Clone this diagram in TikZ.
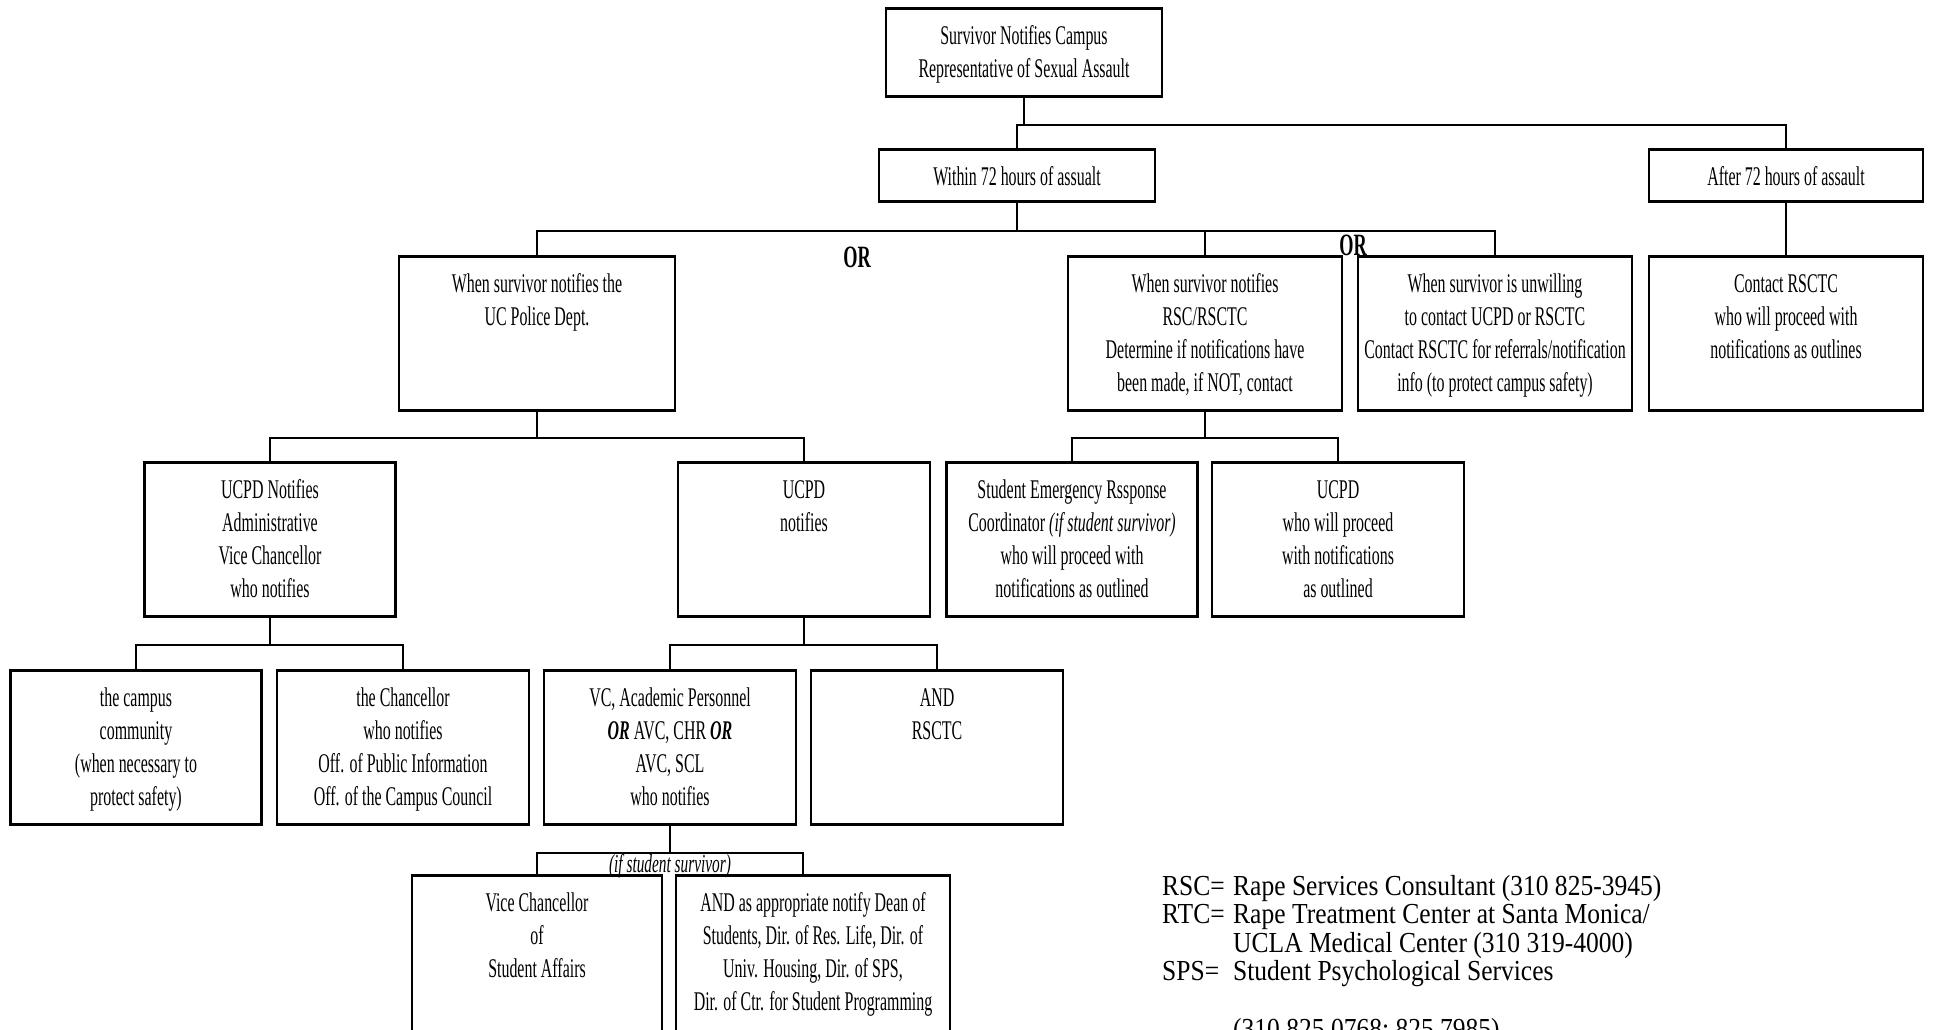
\documentclass[tikz,border=0pt]{standalone}
\usepackage{fontspec}
\setmainfont{Liberation Serif}
\newfontfamily\boxfont[FakeStretch=0.59]{Liberation Serif}
\newfontfamily\legendfont[FakeStretch=0.88]{Liberation Serif}
\newcommand{\boxtext}[3]{\parbox[t][#2][t]{#1}{\centering\rule{0pt}{36pt}#3}}

\tikzset{
  box/.style={draw, line width=2.6pt, inner sep=0pt, anchor=north,
    font=\boxfont\fontsize{27}{33}\selectfont},
  link/.style={line width=2.2pt},
  ortext/.style={inner sep=0pt, font=\boxfont\bfseries\fontsize{31}{31}\selectfont},
}

\begin{document}
\begin{tikzpicture}[x=1pt, y=-1pt]

%%% PAGE - same size as the original scan
\fill[white] (0,0) rectangle (1933,1029);
\useasboundingbox (0,0) rectangle (1933,1029);

% SURVIVOR NOTIFIES
\node[box] (survivor) at (1024,7) {\boxtext{276pt}{88pt}{Survivor Notifies Campus\\Representative of Sexual Assault}};

% WITHIN / AFTER 72 HOURS
\node[box] (within) at (1017,148) {\boxtext{276pt}{52pt}{Within 72 hours of assualt}};
\node[box] (after) at (1786,148) {\boxtext{274pt}{52pt}{After 72 hours of assault}};
\draw[link] (survivor.south) -- ++(0,27) -| (within.north);
\draw[link] (survivor.south) -- ++(0,27) -| (after.north);

% WHEN SURVIVOR NOTIFIES ...
\node[box] (police) at (537,255) {\boxtext{276pt}{154pt}{When survivor notifies the\\UC Police Dept.}};
\node[box] (rsc) at (1205,255) {\boxtext{274pt}{154pt}{When survivor notifies\\RSC/RSCTC\\Determine if notifications have\\been made, if NOT, contact}};
\node[box] (unwilling) at (1495,255) {\boxtext{274pt}{154pt}{When survivor is unwilling\\to contact UCPD or RSCTC\\Contact RSCTC for referrals/notification\\info (to protect campus safety)}};
\node[box] (contact) at (1786,255) {\boxtext{274pt}{154pt}{Contact RSCTC\\who will proceed with\\notifications as outlines}};
\draw[link] (within.south) -- ++(0,28) -| (police.north);
\draw[link] (within.south) -- ++(0,28) -| (rsc.north);
\draw[link] (within.south) -- ++(0,28) -| (unwilling.north);
\draw[link] (after.south) -- (contact.north);

% OR
\node[ortext] (or1) at (857,257) {OR};
\node[ortext] (or2) at (1353,245) {OR};

% UCPD
\node[box] (admin) at (270,461) {\boxtext{251pt}{154pt}{UCPD Notifies\\Administrative\\Vice Chancellor\\who notifies}};
\node[box] (ucpd) at (804,461) {\boxtext{252pt}{154pt}{UCPD\\notifies}};
\draw[link] (police.south) -- ++(0,26) -| (admin.north);
\draw[link] (police.south) -- ++(0,26) -| (ucpd.north);

% RSC CONTACTS
\node[box] (coordinator) at (1072,461) {\boxtext{251pt}{154pt}{Student Emergency Rssponse\\Coordinator \textit{(if student survivor)}\\who will proceed with\\notifications as outlined}};
\node[box] (ucpdproceed) at (1338,461) {\boxtext{252pt}{154pt}{UCPD\\who will proceed\\with notifications\\as outlined}};
\draw[link] (rsc.south) -- ++(0,26) -| (coordinator.north);
\draw[link] (rsc.south) -- ++(0,26) -| (ucpdproceed.north);

% ADMINISTRATIVE VC NOTIFIES
\node[box] (community) at (136,669) {\boxtext{251pt}{154pt}{the campus\\community\\(when necessary to\\protect safety)}};
\node[box] (chancellor) at (403,669) {\boxtext{252pt}{154pt}{the Chancellor\\who notifies\\Off. of Public Information\\Off. of the Campus Council}};
\draw[link] (admin.south) -- ++(0,27) -| (community.north);
\draw[link] (admin.south) -- ++(0,27) -| (chancellor.north);

% UCPD NOTIFIES
\node[box] (vc) at (670,669) {\boxtext{252pt}{154pt}{VC, Academic Personnel\\\textbf{\textit{OR}} AVC, CHR \textbf{\textit{OR}}\\AVC, SCL\\who notifies}};
\node[box] (andrsctc) at (937,669) {\boxtext{252pt}{154pt}{AND\\RSCTC}};
\draw[link] (ucpd.south) -- ++(0,27) -| (vc.north);
\draw[link] (ucpd.south) -- ++(0,27) -| (andrsctc.north);

% STUDENT SURVIVOR
\node[box] (vcsa) at (537,874) {\boxtext{250pt}{190pt}{Vice Chancellor\\of\\Student Affairs}};
\node[box] (deans) at (813,874) {\boxtext{274pt}{190pt}{AND as appropriate notify Dean of\\Students, Dir. of Res. Life, Dir. of\\Univ. Housing, Dir. of SPS,\\Dir. of Ctr. for Student Programming}};
\draw[link] (vc.south) -- ++(0,27) -| (vcsa.north);
\draw[link] (vc.south) -- ++(0,27) -| ([xshift=-10pt]deans.north);
\node[inner sep=0pt, font=\boxfont\itshape\fontsize{26}{26}\selectfont] (ifstudent) at (670,866) {(if student survivor)};

% LEGEND
\node[anchor=base west, inner sep=0pt, font=\legendfont\fontsize{29}{28.5}\selectfont] (legend) at (1162,895) {%
  \begin{tabular}[t]{@{}p{71pt}@{}l@{}}
  RSC= & Rape Services Consultant (310 825-3945)\\
  RTC= & Rape Treatment Center at Santa Monica/\\
       & UCLA Medical Center (310 319-4000)\\
  SPS= & Student Psychological Services\\[29pt]
       & (310 825 0768; 825 7985)
  \end{tabular}};

\end{tikzpicture}
\end{document}
